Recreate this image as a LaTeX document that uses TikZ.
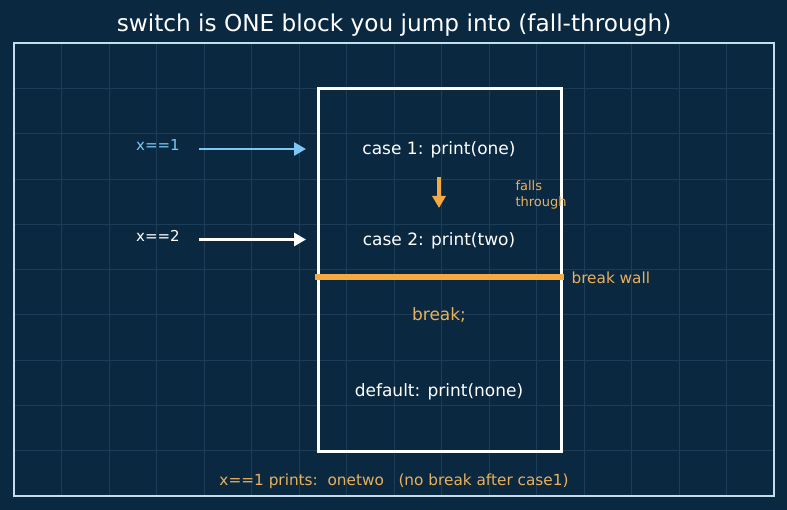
\documentclass[tikz,border=0pt]{standalone}
\usepackage{fontspec}
\setmainfont{DejaVu Sans}
\usepackage{xcolor}
\definecolor{swnavy}{HTML}{0B2841}
\definecolor{swgrid}{HTML}{1B3D58}
\definecolor{swframe}{HTML}{C6DCEA}
\definecolor{swblue}{HTML}{7CC7F7}
\definecolor{sworange}{HTML}{F5A942}
\definecolor{swtext}{HTML}{EBB05A}
\usetikzlibrary{arrows.meta,positioning}

\begin{document}
\begin{tikzpicture}[x=1pt,y=-1pt,
  gridline/.style={swgrid,line width=0.6pt},
  casetxt/.style={text=white,font=\fontsize{17}{20}\selectfont},
  inlabel/.style={font=\fontsize{15}{18}\selectfont},
  jumparr/.style={-{Triangle[length=12pt,width=13pt]},line width=2.8pt},
  notetxt/.style={text=swtext,font=\fontsize{15.3}{18}\selectfont}
]
  % background, frame and grid
  \fill[swnavy] (0,0) rectangle (787,510);
  \useasboundingbox (0,0) rectangle (787,510);
  \foreach \i in {1,...,15}
    \draw[gridline] ({14+47.5*\i},43) -- ({14+47.5*\i},496);
  \foreach \j in {1,...,9}
    \draw[gridline] (14,{43+45.3*\j}) -- (774,{43+45.3*\j});
  \draw[swframe,line width=1.8pt] (14,43) rectangle (774,496);

  % title
  \node[text=white,font=\fontsize{23.2}{27}\selectfont] (title) at (394,25)
    {switch is ONE block you jump into (fall-through)};

  % the one block
  \node[draw=white,line width=3pt,minimum width=243pt,minimum height=362pt,
    inner sep=0pt] (block) at (439.5,270) {};

  % cases inside the block
  \node[casetxt] (case1) at (439,149.5) {case 1: print(one)};
  \node[casetxt] (case2) at (439,240.5) {case 2: print(two)};
  \node[casetxt,text=swtext] (brk) at (439,315.5) {break;};
  \node[casetxt] (dflt) at (439,391.5) {default: print(none)};

  % fall-through
  \coordinate (fallA) at (439,177);
  \coordinate (fallB) at (439,208);
  \draw[sworange,-{Triangle[length=12pt,width=13pt]},line width=3.6pt] (fallA) -- (fallB);
  \node[text=swtext,font=\fontsize{13}{16}\selectfont,align=left,anchor=west] (falls)
    at (512,195) {falls\\through};

  % break wall
  \coordinate (wallL) at (315,277);
  \coordinate (wallR) at (564,277);
  \draw[sworange,line width=5.8pt] (wallL) -- (wallR);
  \node[notetxt,anchor=west] (walllbl) at (568,278) {break wall};

  % entry jumps
  \node[inlabel,text=swblue] (x1) at (158,145) {x==1};
  \node[inlabel,text=white] (x2) at (158,236) {x==2};
  \coordinate (jmp1a) at (199,149);
  \coordinate (jmp1b) at (306,149);
  \coordinate (jmp2a) at (199,239.5);
  \coordinate (jmp2b) at (306,239.5);
  \draw[jumparr,swblue] (jmp1a) -- (jmp1b);
  \draw[jumparr,white] (jmp2a) -- (jmp2b);

  % bottom note
  \node[notetxt] (note) at (394,481)
    {x==1 prints:\ \ onetwo\ \ \ (no break after case1)};
\end{tikzpicture}
\end{document}
